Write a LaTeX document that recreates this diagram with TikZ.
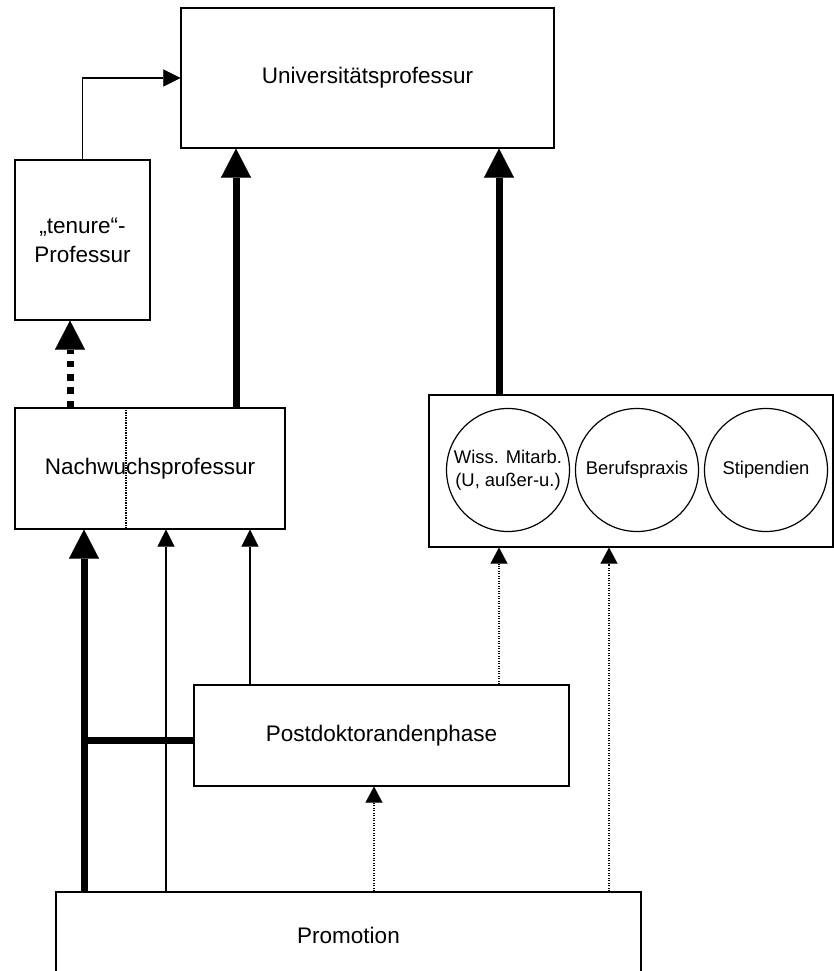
\documentclass[tikz,border=0pt]{standalone}
\usepackage{fontspec}
\setmainfont{Liberation Sans}
\usetikzlibrary{arrows.meta}
\begin{document}
\begin{tikzpicture}[x=1pt,y=-1pt,
  box/.style={draw, line width=1.2pt, rectangle, inner sep=0pt, align=center,
    font=\fontsize{22.5}{29}\selectfont},
  circ/.style={draw, line width=1.2pt, circle, minimum size=123pt, inner sep=0pt,
    align=center, font=\fontsize{18.4}{22.5}\selectfont},
  bigarrow/.style={line width=7pt, -{Triangle[width=30pt,length=29pt,line width=0.1pt]}},
  bigline/.style={line width=7pt},
  bigdash/.style={line width=7pt, dash pattern=on 6.7pt off 6.7pt,
    -{Triangle[width=30pt,length=29pt,line width=0.1pt]}},
  smallarrow/.style={line width=1.2pt, -{Triangle[width=17pt,length=17pt,line width=0.1pt]}},
  dotarrow/.style={line width=1.2pt, dash pattern=on 1.2pt off 1.3pt,
    -{Triangle[width=17pt,length=16pt,line width=0.1pt]}},
  dotline/.style={line width=1.2pt, dash pattern=on 1.2pt off 1.3pt}]
\useasboundingbox (0,0) rectangle (834,971);
\clip (0,0) rectangle (834,971);

% nodes
\node[box, minimum width=373pt, minimum height=140pt] (univ) at (367.5,78) {Universitätsprofessur};
\node[box, minimum width=135pt, minimum height=160pt] (tenure) at (82.5,240) {„tenure“-\\Professur};
\node[box, minimum width=270pt, minimum height=121pt] (nachw) at (150,468.5) {Nachwuchsprofessur};
\node[box, minimum width=404pt, minimum height=152pt] (group) at (631,471) {};
\node[circ] (wiss) at (508,470) {Wiss. Mitarb.\\(U, außer-u.)};
\node[circ] (beruf) at (637,470) {Berufspraxis};
\node[circ] (stip) at (766,470) {Stipendien};
\node[box, minimum width=375pt, minimum height=101pt] (post) at (381.5,735.5) {Postdoktorandenphase};
\node[box, minimum width=585pt, minimum height=86pt] (prom) at (348.5,935) {Promotion};

% column coordinates
\coordinate (xa) at (84,0);
\coordinate (xb) at (166,0);
\coordinate (xc) at (250,0);
\coordinate (xd) at (236,0);
\coordinate (xe) at (499,0);
\coordinate (xf) at (609,0);
\coordinate (xg) at (374,0);
\coordinate (xh) at (70,0);
\coordinate (xi) at (126,0);
\coordinate (hj) at (84,740);

% connectors
\draw[smallarrow] (tenure.north) |- (univ.west);
\draw[bigarrow] (nachw.north -| xd) -- (univ.south -| xd);
\draw[bigarrow] (group.north -| xe) -- (univ.south -| xe);
\draw[bigdash] (nachw.north -| xh) -- (tenure.south -| xh);
\draw[dotline] (nachw.north -| xi) -- (nachw.south -| xi);

\draw[bigarrow] (prom.north -| xa) -- (nachw.south -| xa);
\draw[smallarrow] (prom.north -| xb) -- (nachw.south -| xb);
\draw[smallarrow] (post.north -| xc) -- (nachw.south -| xc);
\draw[bigline] (post.west |- hj) -- (hj);

\draw[dotarrow] (post.north -| xe) -- (group.south -| xe);
\draw[dotarrow] (prom.north -| xf) -- (group.south -| xf);
\draw[dotarrow] (prom.north -| xg) -- (post.south -| xg);
\end{tikzpicture}
\end{document}
